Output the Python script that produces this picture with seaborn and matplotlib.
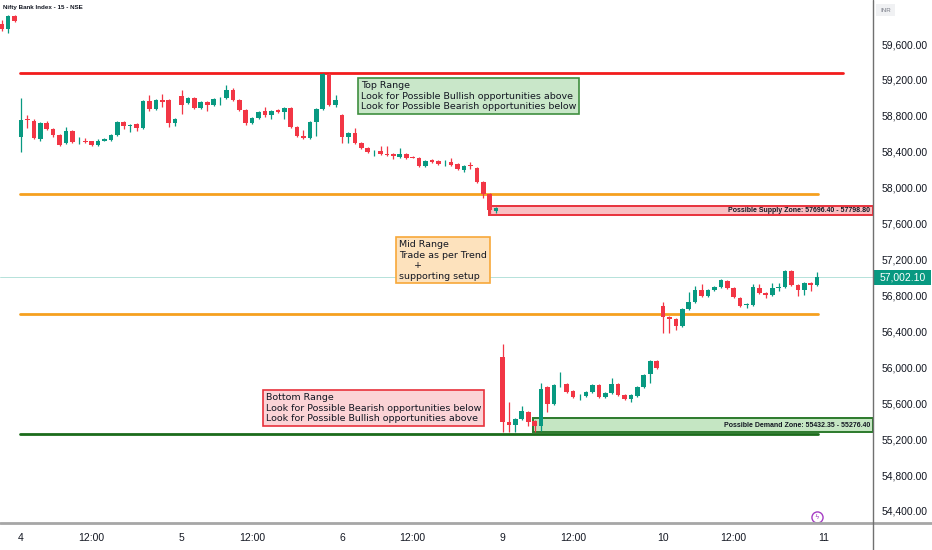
import matplotlib
matplotlib.use("Agg")
import matplotlib.pyplot as plt
import matplotlib.transforms as mtransforms
from matplotlib.lines import Line2D
from matplotlib.patches import Rectangle
import numpy as np
import pandas as pd
import seaborn as sns

# 15 minute candles: last 3 bars of the 3rd, then full sessions of 4,5,6,9,10
session_days = ["4", "5", "6", "9", "10"]
next_day = "11"

opens = [59823, 59767, 59912,
         58564, 58760, 58743, 58542, 58720, 58653, 58587, 58498, 58631, 58505, 58512, 58520, 58475,
         58520, 58531, 58587, 58731, 58692, 58709, 58665, 58965, 58876, 58976, 58976, 58720,
         59021, 58943, 58999, 58887, 58954, 58921, 58995, 58999, 59088, 58976, 58865, 58720, 58776,
         58854, 58809, 58865, 58843, 58887, 58676, 58576, 58553, 58731, 58876, 59266, 58921,
         58809, 58564, 58609, 58498, 58442, 58405, 58408, 58375, 58375, 58342, 58375, 58342, 58331,
         58241, 58308, 58297, 58270, 58286, 58264, 58197, 58253, 58219, 58063, 57930, 57740,
         56114, 55391, 55357, 55424, 55502, 55402, 55346, 55780, 55591, 55820, 55814, 55736, 55675,
         55680, 55725, 55803, 55669, 55714, 55814, 55691, 55647, 55680, 55780, 55925, 56070,
         56682, 56560, 56538, 56460, 56649, 56727, 56861, 56794, 56861, 56894, 56961, 56883, 56771,
         56694, 56694, 56883, 56827, 56805, 56883, 56894, 57072, 56916, 56861, 56939, 56916]
closes = [59767, 59912, 59856,
          58754, 58750, 58553, 58720, 58653, 58587, 58475, 58631, 58509, 58512, 58507, 58475, 58520,
          58542, 58587, 58731, 58687, 58698, 58665, 58965, 58876, 58976, 58954, 58720, 58765,
          58921, 58999, 58887, 58954, 58921, 58988, 59000, 59088, 58976, 58865, 58720, 58776, 58843,
          58809, 58854, 58843, 58887, 58676, 58576, 58553, 58731, 58876, 59266, 58921, 58976,
          58564, 58609, 58498, 58442, 58397, 58410, 58375, 58364, 58353, 58375, 58331, 58331, 58241,
          58297, 58286, 58264, 58275, 58253, 58208, 58241, 58241, 58063, 57930, 57751, 57774,
          55391, 55357, 55424, 55513, 55391, 55346, 55758, 55591, 55803, 55825, 55725, 55669, 55680,
          55725, 55803, 55669, 55714, 55814, 55691, 55647, 55691, 55780, 55914, 56070, 55992,
          56560, 56538, 56460, 56649, 56727, 56861, 56794, 56861, 56894, 56972, 56883, 56783, 56682,
          56705, 56894, 56827, 56805, 56883, 56894, 57072, 56916, 56861, 56939, 56916, 57002.1]
highs = [59870, 59925, 59920,
         58999, 58809, 58760, 58731, 58743, 58660, 58600, 58680, 58640, 58560, 58553, 58525, 58540,
         58550, 58600, 58745, 58740, 58710, 58720, 58975, 59032, 58985, 59045, 58990, 58780,
         59088, 59010, 59010, 58965, 58960, 59000, 59010, 59143, 59110, 58985, 58875, 58785, 58850,
         58900, 58865, 58875, 58900, 58895, 58685, 58640, 58740, 58885, 59275, 59275, 59030,
         58820, 58620, 58660, 58505, 58450, 58420, 58460, 58460, 58385, 58440, 58385, 58350, 58340,
         58305, 58315, 58305, 58310, 58330, 58270, 58250, 58290, 58225, 58070, 57940, 57790,
         56259, 55613, 55440, 55569, 55515, 55410, 55825, 55790, 55815, 55947, 55830, 55745, 55700,
         55735, 55815, 55810, 55725, 55880, 55825, 55700, 55700, 55790, 55925, 56080, 56080,
         56727, 56570, 56545, 56660, 56838, 56900, 56925, 56870, 56900, 56980, 56970, 56890, 56780,
         56712, 56928, 56928, 56835, 56942, 56942, 57080, 57080, 56925, 56950, 56945, 57061]
lows = [59745, 59723, 59845,
        58397, 58665, 58540, 58520, 58640, 58560, 58460, 58486, 58500, 58490, 58500, 58465, 58465,
        58515, 58525, 58580, 58650, 58620, 58630, 58655, 58850, 58865, 58900, 58680, 58690,
        58820, 58930, 58875, 58875, 58850, 58910, 58920, 58990, 58965, 58855, 58700, 58710, 58765,
        58790, 58760, 58830, 58770, 58665, 58565, 58545, 58540, 58575, 58860, 58910, 58900,
        58498, 58500, 58490, 58435, 58390, 58350, 58365, 58350, 58320, 58335, 58320, 58325, 58230,
        58235, 58280, 58255, 58240, 58245, 58200, 58180, 58210, 58050, 57885, 57696.4, 57720,
        55276.4, 55276.4, 55276.4, 55410, 55345, 55276.4, 55290, 55500, 55580, 55780, 55715, 55660, 55640,
        55670, 55715, 55660, 55660, 55705, 55680, 55640, 55610, 55670, 55770, 55830, 55985,
        56382, 56382, 56420, 56450, 56640, 56720, 56785, 56785, 56855, 56885, 56875, 56775, 56670,
        56660, 56685, 56820, 56770, 56795, 56853, 56885, 56905, 56794, 56805, 56853, 56905]

# range levels drawn by the author
level_names = ["Top Range", "Mid Range top", "Mid Range bottom", "Bottom Range"]
level_prices = [59277, 57930, 56593, 55257]
level_colors = ["#f21c1c", "#f5a01f", "#f5a01f", "#1b6b1b"]

supply_zone = (57696.40, 57798.80)
demand_zone = (55276.40, 55432.35)
last_price = 57002.10

y_ticks = list(range(54400, 59601, 400))

# ---------------------------------------------------------------
UP = "#089981"
DOWN = "#f23645"
TXT = "#131722"

sns.set_theme(style="white")
plt.rcParams["font.family"] = ["DejaVu Sans"]

session = pd.date_range("2024-01-01 09:15", periods=25, freq="15min").strftime("%H:%M").tolist()
bar_day = ["3"] * 3 + [d for d in session_days for _ in session]
bar_time = session[-3:] + session * len(session_days)
n_prev = 3
pos = np.arange(len(opens)) - n_prev

df = pd.DataFrame({"pos": pos, "day": bar_day, "time": bar_time,
                   "open": opens, "high": highs, "low": lows, "close": closes})
df["up"] = df["close"] >= df["open"]
df["color"] = np.where(df["up"], UP, DOWN)
df["body_lo"] = df[["open", "close"]].min(axis=1)
df["body_h"] = (df["close"] - df["open"]).abs().clip(lower=8)

fig = plt.figure(figsize=(9.32, 5.5), dpi=100)
fig.patch.set_facecolor("white")
ax = fig.add_axes([0, 27 / 550, 873 / 932, 523 / 550])
ax.set_facecolor("white")

# candles
ax.vlines(df["pos"], df["low"], df["high"], colors=df["color"], linewidth=0.9, zorder=3)
ax.bar(df["pos"], df["body_h"], bottom=df["body_lo"], width=0.72, color=df["color"],
       linewidth=0, zorder=4)

last_pos = df["pos"].iloc[-1]

# level lines
ends = [last_pos + 4.1, last_pos + 0.2, last_pos + 0.2, last_pos + 0.2]
lv = pd.DataFrame({
    "level": [n for n in level_names for _ in range(2)],
    "pos": [x for e in ends for x in (-0.2, e)],
    "price": [p for p in level_prices for _ in range(2)],
})
sns.lineplot(data=lv, x="pos", y="price", hue="level", palette=dict(zip(level_names, level_colors)),
             linewidth=2, legend=False, ax=ax, zorder=2, estimator=None)

x_left, x_right = -3.27, 132.7
ax.set_xlim(x_left, x_right)
ax.set_ylim(54266, 60090)

# zones
sup_start = df.loc[df["low"] == supply_zone[0], "pos"].iloc[0] - 0.1
dem_start = 79.8
ax.add_patch(Rectangle((sup_start, supply_zone[0]), x_right - sup_start, supply_zone[1] - supply_zone[0],
                       facecolor="#f9c0c3", edgecolor="#e8323c", linewidth=1.4, zorder=1))
ax.add_patch(Rectangle((dem_start, demand_zone[0]), x_right - dem_start, demand_zone[1] - demand_zone[0],
                       facecolor="#c5e6c3", edgecolor="#2c7a2c", linewidth=1.4, zorder=1))
bt = mtransforms.blended_transform_factory(ax.transAxes, ax.transData)
ax.text(0.997, sum(supply_zone) / 2, f"Possible Supply Zone: {supply_zone[0]:.2f} - {supply_zone[1]:.2f}",
        transform=bt, ha="right", va="center", fontsize=5, fontweight="bold", color=TXT,
        family="Liberation Sans", zorder=6)
ax.text(0.997, sum(demand_zone) / 2, f"Possible Demand Zone: {demand_zone[1]:.2f} - {demand_zone[0]:.2f}",
        transform=bt, ha="right", va="center", fontsize=5, fontweight="bold", color=TXT,
        family="Liberation Sans", zorder=6)

# last price line
ax.axhline(last_price, color="#a9ddd5", linewidth=0.6, zorder=1)

# notes
note_kw = dict(fontsize=6.8, color=TXT, va="top", ha="left", zorder=7, linespacing=1.22)
ax.text(53.0, 59188, "Top Range\nLook for Possible Bullish opportunities above\nLook for Possible Bearish opportunities below",
        bbox=dict(boxstyle="square,pad=0.3", facecolor="#c9e7c9", edgecolor="#3f8f3f", linewidth=1.2), **note_kw)
ax.text(58.9, 57417, "Mid Range\nTrade as per Trend\n     +\nsupporting setup",
        bbox=dict(boxstyle="square,pad=0.3", facecolor="#fde2bd", edgecolor="#f7a83a", linewidth=1.2), **note_kw)
ax.text(38.2, 55714, "Bottom Range\nLook for Possible Bearish opportunities below\nLook for Possible Bullish opportunities above",
        bbox=dict(boxstyle="square,pad=0.3", facecolor="#fbd3d6", edgecolor="#e8323c", linewidth=1.2), **note_kw)

# axes styling
for s in ax.spines.values():
    s.set_visible(False)
ax.grid(False)
ax.yaxis.tick_right()
ax.set_yticks(y_ticks)
ax.set_yticklabels([f"{v:,.2f}" for v in y_ticks])
ticks, labels = [], []
for p, d, t in zip(df["pos"], df["day"], df["time"]):
    if p < 0:
        continue
    if t == "09:15":
        ticks.append(p)
        labels.append(d)
    elif t == "12:00":
        ticks.append(p)
        labels.append("12:00")
ticks.append(last_pos + 1)
labels.append(next_day)
ax.set_xticks(ticks)
ax.set_xticklabels(labels)
ax.tick_params(axis="both", length=0, labelsize=7.5, colors=TXT)
ax.tick_params(axis="y", pad=6)
ax.tick_params(axis="x", pad=7)
for lab in ax.get_xticklabels() + ax.get_yticklabels():
    lab.set_family("Liberation Sans")
ax.set_xlabel("")
ax.set_ylabel("")

# last price tag on the scale
ax.add_patch(Rectangle((1.0, last_price - 85), 0.066, 170, transform=bt, facecolor=UP,
                       edgecolor="none", clip_on=False, zorder=8))
ax.text(1.008, last_price, f"{last_price:,.2f}", transform=bt, ha="left", va="center",
        fontsize=7.5, color="white", family="Liberation Sans", zorder=9, clip_on=False)

# frame lines like the chart panel
fig.add_artist(Line2D([0, 1], [27 / 550, 27 / 550], color="#a6a6a6", linewidth=2, transform=fig.transFigure))
fig.add_artist(Line2D([873 / 932, 873 / 932], [0, 1], color="#707070", linewidth=1, transform=fig.transFigure))

fig.text(3 / 932, 1 - 8 / 550, "Nifty Bank Index - 15 - NSE", fontsize=4.5, fontweight="bold",
         color=TXT, family="Liberation Sans", va="center")
fig.text(880 / 932, 1 - 10 / 550, "INR", fontsize=4.5, color="#787b86", family="Liberation Sans",
         va="center", bbox=dict(boxstyle="square,pad=0.6", facecolor="#f0f1f3", edgecolor="none"))

# alert icon
ax.plot([last_pos], [0.0115], transform=mtransforms.blended_transform_factory(ax.transData, ax.transAxes),
        marker="o", markersize=8, markerfacecolor="white", markeredgecolor="#a53dc4", markeredgewidth=1,
        clip_on=False, zorder=9)
ax.text(last_pos, 0.0115, "ϟ", transform=mtransforms.blended_transform_factory(ax.transData, ax.transAxes),
        ha="center", va="center", fontsize=5, color="#a53dc4", zorder=10)

fig.savefig("out.png", dpi=100)
